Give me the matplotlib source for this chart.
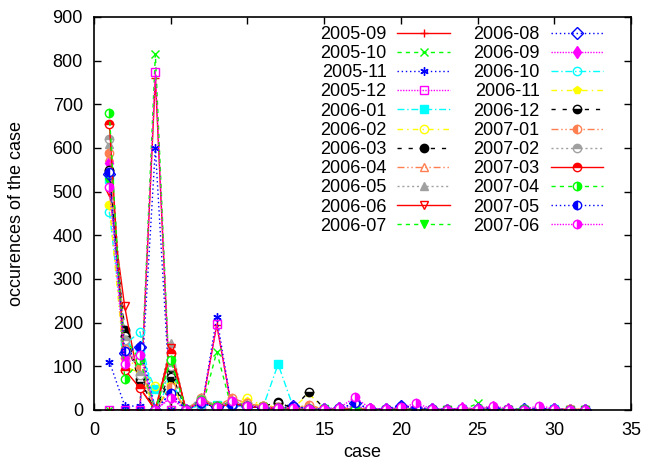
import numpy as np
import matplotlib
matplotlib.use("Agg")
import matplotlib.pyplot as plt

# ---------------------------------------------------------------
# DATA  (case 1..32, one list per month)
# ---------------------------------------------------------------
cases = list(range(1, 33))
months = ["2005-09", "2005-10", "2005-11", "2005-12", "2006-01", "2006-02",
          "2006-03", "2006-04", "2006-05", "2006-06", "2006-07", "2006-08",
          "2006-09", "2006-10", "2006-11", "2006-12", "2007-01", "2007-02",
          "2007-03", "2007-04", "2007-05", "2007-06"]

m_2005_09 = [0, 0, 0, 760, 0, 0, 0, 195, 0, 0, 0, 0, 0, 0, 0, 0,
             0, 0, 0, 0, 0, 0, 0, 0, 0, 0, 0, 0, 0, 2, 0, 0]
m_2005_10 = [0, 0, 0, 815, 0, 0, 0, 133, 0, 0, 0, 0, 0, 0, 0, 0,
             0, 0, 0, 0, 0, 0, 0, 0, 15, 0, 0, 0, 0, 0, 0, 0]
m_2005_11 = [111, 10, 8, 600, 0, 0, 0, 213, 0, 0, 0, 0, 0, 0, 0, 0,
             0, 0, 0, 0, 0, 0, 0, 0, 0, 0, 0, 0, 0, 0, 0, 0]
m_2005_12 = [0, 0, 0, 775, 0, 0, 0, 197, 0, 0, 0, 0, 0, 0, 0, 0,
             0, 0, 0, 0, 0, 0, 0, 0, 0, 0, 0, 0, 0, 0, 0, 0]
m_2006_01 = [530, 160, 130, 48, 69, 0, 20, 12, 15, 8, 5, 105, 5, 3, 2, 3,
             2, 1, 1, 2, 1, 0, 1, 2, 1, 0, 1, 0, 1, 2, 0, 0]
m_2006_02 = [470, 120, 95, 55, 60, 0, 15, 8, 20, 27, 10, 8, 5, 10, 3, 2,
             3, 2, 1, 1, 2, 1, 0, 1, 2, 1, 0, 1, 0, 0, 1, 0]
m_2006_03 = [545, 183, 70, 0, 88, 0, 20, 10, 18, 12, 8, 18, 6, 5, 2, 3,
             4, 2, 1, 3, 2, 1, 1, 2, 1, 1, 0, 1, 1, 0, 1, 0]
m_2006_04 = [580, 140, 99, 0, 53, 0, 25, 10, 27, 15, 8, 6, 4, 10, 2, 3,
             2, 1, 1, 2, 1, 1, 0, 1, 2, 1, 1, 0, 1, 1, 2, 1]
m_2006_05 = [610, 150, 110, 0, 153, 0, 30, 8, 22, 12, 6, 5, 4, 3, 2, 2,
             3, 1, 1, 2, 1, 1, 1, 1, 1, 0, 1, 1, 0, 1, 0, 1]
m_2006_06 = [500, 237, 50, 0, 142, 0, 18, 6, 15, 10, 5, 4, 3, 2, 1, 2,
             2, 1, 0, 1, 1, 0, 1, 0, 1, 1, 0, 1, 0, 0, 1, 0]
m_2006_07 = [523, 165, 114, 0, 115, 0, 22, 8, 20, 10, 6, 5, 4, 3, 2, 2,
             1, 1, 1, 1, 0, 1, 1, 0, 1, 0, 1, 0, 1, 0, 0, 1]
m_2006_08 = [540, 130, 145, 0, 39, 0, 15, 6, 12, 8, 5, 4, 8, 2, 3, 4,
             15, 3, 2, 10, 4, 2, 1, 3, 2, 5, 1, 2, 3, 2, 1, 0]
m_2006_09 = [565, 120, 126, 0, 30, 0, 18, 6, 14, 9, 5, 4, 6, 3, 2, 5,
             8, 3, 2, 4, 8, 2, 1, 4, 3, 6, 2, 1, 5, 2, 1, 0]
m_2006_10 = [454, 150, 179, 0, 69, 0, 12, 10, 10, 8, 6, 5, 3, 2, 2, 3,
             2, 1, 1, 2, 1, 1, 0, 1, 2, 1, 1, 1, 0, 3, 1, 0]
m_2006_11 = [470, 100, 85, 0, 60, 0, 14, 8, 15, 20, 8, 6, 4, 38, 2, 3,
             2, 1, 1, 1, 1, 0, 1, 1, 1, 0, 1, 0, 1, 1, 2, 0]
m_2006_12 = [550, 170, 63, 0, 75, 0, 16, 6, 12, 8, 5, 17, 4, 42, 3, 2,
             2, 1, 1, 2, 1, 1, 1, 2, 1, 1, 0, 1, 1, 0, 1, 1]
m_2007_01 = [589, 140, 99, 0, 53, 0, 28, 8, 27, 15, 8, 6, 4, 12, 2, 3,
             3, 2, 1, 2, 1, 1, 0, 2, 3, 1, 1, 0, 1, 1, 3, 1]
m_2007_02 = [620, 160, 80, 0, 100, 0, 26, 8, 20, 12, 6, 5, 3, 4, 2, 2,
             2, 1, 1, 1, 1, 1, 1, 1, 1, 1, 0, 1, 0, 1, 0, 0]
m_2007_03 = [656, 92, 50, 0, 130, 0, 20, 6, 15, 8, 5, 4, 3, 2, 1, 2,
             1, 1, 0, 1, 1, 0, 1, 0, 1, 1, 0, 0, 1, 0, 1, 0]
m_2007_04 = [679, 70, 114, 0, 115, 0, 22, 8, 18, 9, 6, 5, 3, 2, 2, 1,
             2, 1, 1, 1, 1, 1, 0, 1, 1, 0, 3, 2, 1, 1, 0, 1]
m_2007_05 = [544, 134, 145, 0, 39, 0, 16, 6, 12, 8, 5, 4, 9, 3, 2, 4,
             15, 3, 2, 10, 5, 2, 1, 3, 2, 4, 2, 1, 3, 2, 1, 0]
m_2007_06 = [511, 105, 126, 0, 27, 0, 20, 6, 20, 10, 6, 5, 4, 3, 2, 5,
             29, 4, 2, 6, 15, 3, 1, 5, 3, 10, 2, 1, 10, 3, 1, 0]

series = [m_2005_09, m_2005_10, m_2005_11, m_2005_12, m_2006_01, m_2006_02,
          m_2006_03, m_2006_04, m_2006_05, m_2006_06, m_2006_07, m_2006_08,
          m_2006_09, m_2006_10, m_2006_11, m_2006_12, m_2007_01, m_2007_02,
          m_2007_03, m_2007_04, m_2007_05, m_2007_06]

# ---------------------------------------------------------------
# gnuplot-like styles
# ---------------------------------------------------------------
colors = ["#ff0000", "#00ff00", "#0000ff", "#ff00ff", "#00ffff",
          "#ffff00", "#000000", "#ff7f50", "#a0a0a0"]
dashes = [None, (3, 3), (1, 2), (1, 1), (5, 2, 1, 2), (4, 3, 1, 3),
          (3, 5), (5, 2, 1, 2, 1, 2), (1.5, 2)]
markers = [("+", "full"), ("x", "full"), ((6, 2, 0), "full"), ("s", "none"),
           ("s", "full"), ("o", "none"), ("o", "full"), ("^", "none"),
           ("^", "full"), ("v", "none"), ("v", "full"), ("D", "none"),
           ("d", "full"), ("o", "none"), ("p", "full"), ("o", "bottom"),
           ("o", "left"), ("o", "top"), ("o", "top"), ("o", "right"),
           ("o", "left"), ("o", "right")]

plt.rcParams["font.family"] = ["Liberation Sans", "DejaVu Sans"]
plt.rcParams["font.size"] = 13

fig = plt.figure(figsize=(6.46, 4.63), dpi=100)
ax = fig.add_axes([0.1455, 0.1145, 0.8313, 0.8488])

for i, (name, vals) in enumerate(zip(months, series)):
    c = colors[i % 9]
    d = dashes[i % 9]
    mk, fs = markers[i]
    kw = dict(color=c, lw=1.0, marker=mk, markersize=6, fillstyle=fs,
              markeredgecolor=c, markeredgewidth=1.0, label=name)
    if fs not in ("none", "full"):
        kw["markerfacecoloralt"] = "white"
    if d is None:
        ax.plot(cases, vals, ls="-", **kw)
    else:
        ax.plot(cases, vals, dashes=d, **kw)

ax.set_xlim(0, 35)
ax.set_ylim(0, 900)
ax.set_xticks(np.arange(0, 36, 5))
ax.set_yticks(np.arange(0, 901, 100))
ax.tick_params(axis="both", direction="in", top=True, right=True, length=5,
               width=1, labelsize=13)
ax.tick_params(axis="x", pad=9)
ax.tick_params(axis="y", pad=8)
for sp in ax.spines.values():
    sp.set_linewidth(1.2)

ax.set_xlabel("case", fontsize=13, labelpad=3)
ax.set_ylabel("occurences of the case", fontsize=13, labelpad=20)

leg = ax.legend(ncol=2, markerfirst=False, frameon=False, fontsize=13,
                loc="upper left", bbox_to_anchor=(320 / 646, 1 - 26 / 463),
                bbox_transform=fig.transFigure, handlelength=2.9,
                handletextpad=0.6, columnspacing=1.3, labelspacing=0.12,
                borderpad=0, borderaxespad=0)

fig.savefig("out.png", dpi=100)
